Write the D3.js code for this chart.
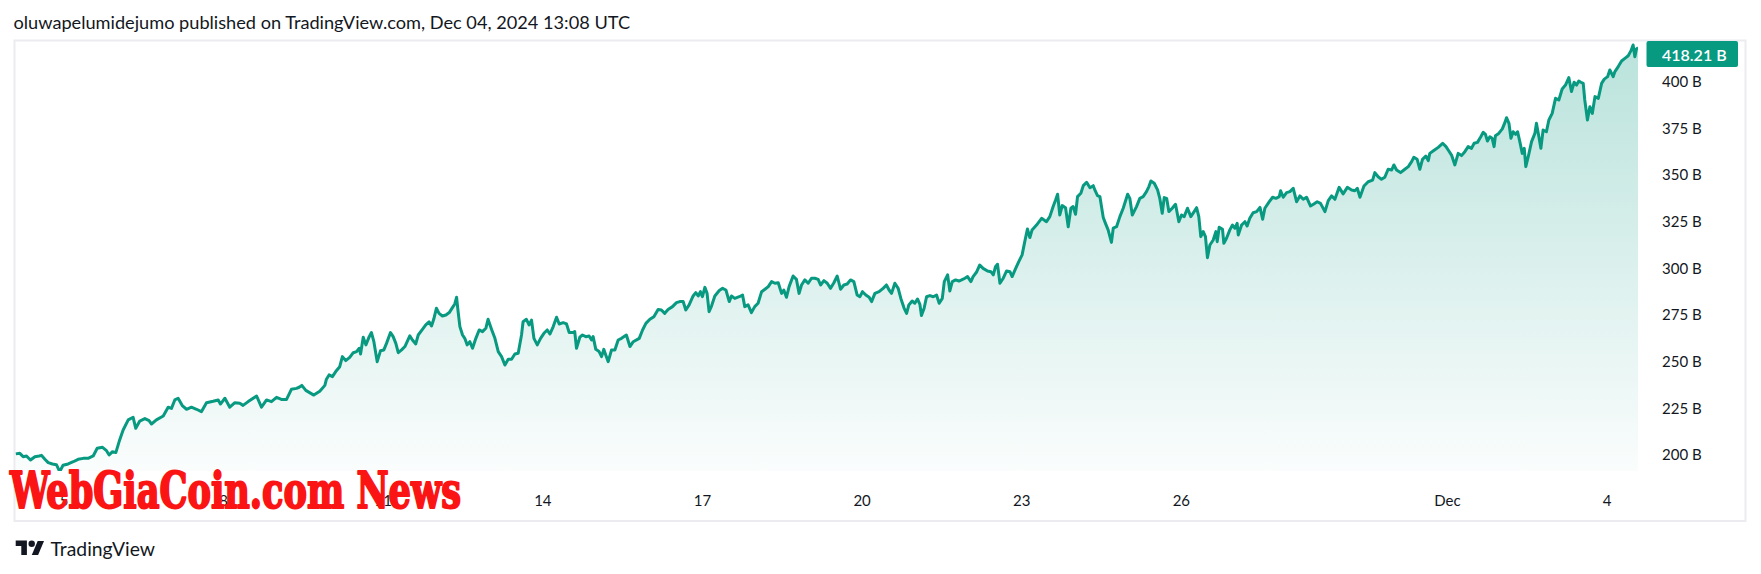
<!DOCTYPE html>
<html><head><meta charset="utf-8">
<script src="https://cdn.jsdelivr.net/npm/d3@7"></script>
<style>html,body{margin:0;padding:0;background:#fff;}svg{display:block;}</style>
</head><body>
<svg id="c" width="1761" height="574"></svg>
<script>
const titleText = "oluwapelumidejumo published on TradingView.com, Dec 04, 2024 13:08 UTC";
const startTime = "2024-11-04T00:00:00Z";
// hours since start (UTC)
const hours = [
2.5,4.3,5.8,7.3,9.1,11.1,13.0,14.1,15.6,17.1,
19.0,20.8,22.3,23.8,26.1,28.4,30.6,32.9,35.1,37.4,
39.2,41.6,43.4,44.6,46.1,47.6,49.1,50.9,53.2,55.4,
56.6,58.4,60.7,62.6,63.7,65.9,69.0,71.2,72.7,74.2,
75.7,77.7,79.5,81.7,84.0,86.2,88.5,91.5,93.8,94.8,
96.8,99.0,101.3,103.5,105.0,107.3,111.1,113.3,115.6,117.8,
120.1,122.3,124.6,126.8,129.1,130.3,
131.5,133.3,136.9,139.6,141.9,
142.6,143.8,145.3,146.8,148.6,149.8,151.3,153.1,154.7,156.2,
157.4,158.0,159.2,160.4,161.9,162.9,164.0,165.5,167.0,168.5,
169.7,171.5,172.7,173.9,175.0,176.5,178.0,180.2,181.4,182.9,
184.0,185.9,187.4,188.9,190.0,191.0,192.2,193.4,194.9,196.5,
198.0,199.5,200.5,201.3,202.0,202.8,204.0,205.0,206.1,207.3,
208.5,210.0,211.5,213.0,214.5,215.5,217.1,218.6,220.1,221.6,
223.1,224.6,226.1,227.6,229.1,230.6,231.3,232.8,234.0,235.1,
236.2,237.7,239.2,240.7,242.2,243.4,244.9,246.4,247.6,249.4,
250.9,252.1,253.9,254.6,255.4,
256.9,258.1,259.6,261.1,262.2,262.9,264.1,265.6,266.7,267.7,
268.6,269.7,271.2,272.7,274.2,275.7,277.9,279.5,281.0,283.7,
285.2,286.7,288.5,290.3,292.2,293.7,295.2,296.7,298.7,300.5,
302.0,303.5,304.7,306.2,308.0,309.2,310.3,311.3,312.2,313.3,
314.3,315.2,316.3,317.8,319.8,321.3,322.8,324.3,325.3,326.8,
328.8,330.3,331.3,332.8,334.3,335.8,337.3,338.9,340.4,341.9,
343.4,344.9,346.4,347.9,348.9,350.1,351.3,353.1,354.6,355.8,
356.9,358.4,359.9,361.4,362.9,364.4,365.5,367.0,368.5,370.0,
371.5,373.0,374.5,376.0,377.5,379.0,380.5,382.0,383.2,384.4,
385.9,387.4,388.5,390.0,391.9,393.7,395.2,396.4,397.5,
399.0,400.5,401.7,403.2,404.3,405.3,406.8,408.0,409.2,410.3,
411.0,412.2,413.3,414.8,416.3,417.8,419.0,420.4,421.3,422.8,
423.8,424.9,426.4,427.9,429.1,430.6,431.8,433.3,434.3,435.8,
437.3,438.8,440.8,442.3,443.4,444.4,445.3,446.4,447.9,449.4,
450.9,451.9,453.4,454.9,456.4,457.6,458.8,459.9,460.9,462.9,
465.2,467.4,468.9,470.4,471.5,472.4,473.4,474.5,476.0,477.2,
478.4,479.4,480.5,481.4,482.9,484.0,485.5,487.0,488.5,489.2,
490.4,491.5,493.0,494.0,495.2,496.7,497.5,499.0,500.5,502.0,
504.0,505.0,506.1,508.0,509.5,511.0,512.5,513.6,514.5,516.0,
517.5,518.5,519.6,520.5,521.6,522.6,524.1,525.6,527.1,528.3,
529.5,531.0,532.5,534.0,535.1,536.1,537.0,538.1,539.1,540.0,
541.1,542.6,543.8,544.4,545.3,546.8,547.4,548.6,550.1,551.3,
552.4,553.4,553.9,555.4,556.9,557.9,559.1,560.6,562.2,563.7,
564.9,565.9,567.9,569.4,570.9,572.4,573.0,574.2,575.7,577.2,
578.7,580.2,581.7,583.2,584.7,586.5,588.0,589.5,591.0,593.0,
594.5,596.0,597.5,599.4,601.2,603.1,605.0,606.5,607.6,608.8,
610.6,612.5,614.5,615.5,617.0,618.5,620.0,621.5,623.1,624.1,
625.3,627.1,628.6,630.6,632.1,633.1,634.6,635.8,637.0,638.5,
639.6,640.3,642.1,644.1,646.1,647.6,648.6,650.1,
651.6,653.1,654.6,656.1,657.6,659.1,660.3,661.8,663.3,664.4,
665.4,666.3,667.4,668.4,669.3,669.9,671.4,673.0,674.2,674.9,
676.0,676.9,677.9,679.0,679.9,680.9,682.0,682.9,683.6,684.7,
686.2,687.7,688.4,689.5,690.4,691.4,692.9,694.0,695.5,697.0,
698.5,700.0,701.5,703.0,704.2,705.4,706.5,707.5,708.4,709.5,
710.2,711.4,712.5,713.6,714.8,716.3,717.8,719.0,720.5,721.5,
723.0,723.8,725.3,726.8,728.3,729.8,731.0,732.0,732.8,733.5,
734.3
];
// market cap in billions
const values = [
200.6,200.9,199.1,199.5,197.3,199.1,199.5,199.8,197.7,195.9,
195.2,194.8,191.1,194.5,195.2,196.4,197.7,198.2,198.2,199.5,
203.6,204.1,202.3,200.0,201.8,201.3,207.2,213.4,218.8,220.2,
214.3,218.2,219.5,218.4,216.6,218.8,220.9,225.6,225.0,229.5,
230.4,226.3,224.5,225.6,224.5,223.2,228.0,228.8,229.5,227.3,
230.4,225.6,228.0,227.7,226.6,228.6,231.6,225.6,229.5,228.6,
230.9,229.8,229.8,235.2,235.7,236.3,
237.3,234.6,232.1,234.2,237.3,
240.6,242.9,242.0,244.7,247.3,252.7,250.6,252.3,254.8,255.4,
257.2,254.1,263.1,259.0,263.4,265.6,260.7,250.0,255.9,256.3,
259.8,265.6,263.4,259.8,254.8,256.3,258.1,263.8,261.6,259.5,
264.3,267.3,269.7,271.4,269.1,272.7,278.6,275.9,274.5,275.0,
276.3,279.1,280.9,284.5,276.8,268.8,264.3,262.5,259.0,260.7,
257.2,262.5,267.0,266.1,267.9,272.7,267.3,262.5,255.4,252.7,
248.2,251.3,251.3,254.1,254.5,264.3,271.4,272.7,269.7,272.3,
262.5,259.0,262.5,265.2,267.0,264.8,268.8,273.8,270.2,270.9,
270.2,265.6,265.6,266.1,257.2,
263.1,264.3,263.4,263.8,261.6,263.4,256.6,255.4,252.7,256.6,
253.6,250.0,256.3,256.3,261.6,262.5,264.3,258.1,260.7,262.5,
267.0,270.5,272.7,274.1,278.0,277.7,275.9,278.0,279.5,281.6,
282.2,282.2,277.7,280.4,285.2,287.0,285.2,287.5,284.8,289.8,
286.6,276.8,279.8,285.2,288.1,289.3,288.4,282.2,285.2,283.9,
284.8,285.7,279.5,280.4,276.3,279.5,281.3,287.5,288.8,290.2,
292.9,292.0,292.3,286.6,288.4,284.5,290.2,295.9,294.1,286.6,
291.1,293.8,292.0,294.7,294.7,294.1,291.1,293.4,292.0,289.3,
292.3,295.9,288.8,291.1,291.6,293.8,292.9,285.7,284.8,287.5,
285.7,284.5,282.2,286.6,287.5,289.3,291.1,288.4,286.6,
292.0,289.3,283.9,278.6,275.9,280.4,282.5,281.3,283.6,280.7,
274.7,278.6,284.8,285.4,284.8,285.7,281.3,283.9,292.9,296.5,
287.9,292.9,293.8,293.2,293.8,294.7,295.6,292.9,295.6,297.9,
301.8,300.0,298.6,298.2,296.5,300.9,302.2,292.0,294.7,298.6,
298.2,295.6,299.7,303.6,307.2,314.3,321.1,316.5,320.6,323.2,
326.8,325.0,327.7,333.1,336.6,339.7,328.6,333.6,332.5,322.3,
332.2,333.1,329.0,338.4,340.2,344.3,346.1,343.2,344.3,342.0,
339.0,338.4,327.2,324.1,320.6,313.9,321.5,322.3,327.7,332.2,
339.7,337.5,328.6,333.1,337.5,338.4,341.1,343.8,346.8,345.6,
342.0,337.5,329.5,337.9,337.5,330.4,332.2,334.3,325.0,328.6,
327.7,332.2,327.7,330.4,332.5,327.7,317.0,319.7,317.0,305.7,
312.5,315.2,319.7,314.3,322.0,320.9,313.4,316.1,320.6,323.2,
321.5,324.1,317.9,323.2,325.0,322.7,326.8,329.8,330.4,332.7,
326.3,332.2,335.7,338.1,337.5,338.4,341.6,338.1,340.6,341.1,
342.9,335.7,338.8,337.0,338.1,333.4,334.5,335.7,334.8,330.4,
336.3,338.8,337.0,343.4,339.9,343.4,342.0,341.6,342.9,338.1,
344.1,346.4,347.3,351.3,349.1,347.7,348.8,353.1,352.7,355.4,
352.7,351.3,352.7,354.5,357.2,359.5,358.4,353.1,358.4,360.2,
357.7,361.6,363.1,364.8,367.0,365.2,363.4,360.7,
355.4,361.6,360.4,362.5,365.2,364.3,367.0,367.5,370.5,372.9,
371.8,368.2,370.5,369.7,365.2,371.1,372.3,374.7,378.2,380.7,
377.7,369.7,373.2,371.8,373.2,367.9,361.6,364.3,354.5,359.8,
367.9,372.3,377.7,370.5,364.3,374.1,373.2,379.5,383.0,391.1,
390.2,396.1,398.2,402.2,394.7,399.7,398.2,400.4,399.7,399.1,
390.2,379.5,386.6,383.0,392.0,391.1,399.1,401.4,402.7,406.3,
402.7,405.4,408.1,411.1,412.5,413.9,416.5,419.7,413.4,417.5,
418.21
];
const yTicks = [200, 225, 250, 275, 300, 325, 350, 375, 400];
const yTickLabels = ["200 B","225 B","250 B","275 B","300 B","325 B","350 B","375 B","400 B"];
const xTickDates = ["2024-11-05","2024-11-08","2024-11-11","2024-11-14","2024-11-17","2024-11-20","2024-11-23","2024-11-26","2024-12-01","2024-12-04"];
const xTickLabels = ["5","8","11","14","17","20","23","26","Dec","4"];
const lastLabel = "418.21 B";
const watermarkText = "WebGiaCoin.com News";
const brandText = "TradingView";

const svg = d3.select("#c");
const GREEN = "#089981", INK = "#131722";
const t0 = new Date(startTime).getTime();
const data = hours.map((h, i) => ({ t: new Date(t0 + h * 3600e3), v: values[i] }));

const plot = { left: 15, right: 1638, top: 41, bottom: 471 };
const x = d3.scaleUtc().domain([new Date("2024-11-05T00:00:00Z"), new Date("2024-12-04T00:00:00Z")]).range([63.5, 1606.5]);
const y = d3.scaleLinear().domain([200, 400]).range([455, 81.7]);

// frame
svg.append("rect").attr("x", 14.5).attr("y", 40.5).attr("width", 1731).attr("height", 480.5)
  .attr("fill", "#fff").attr("stroke", "#ebebf0").attr("stroke-width", 2);

// title
const title = svg.append("text").attr("x", 13.5).attr("y", 22).attr("dominant-baseline", "central")
  .attr("font-family", "Lato, 'Open Sans', sans-serif").attr("font-size", 17).attr("fill", INK).text(titleText);
function fit(sel, target) {
  const w = sel.node().getComputedTextLength();
  const fs = +sel.attr("font-size");
  if (w > 0) sel.attr("font-size", (fs * target / w).toFixed(2));
}
fit(title, 617);

const defs = svg.append("defs");
defs.append("clipPath").attr("id", "clip").append("rect")
  .attr("x", plot.left).attr("y", plot.top).attr("width", plot.right - plot.left).attr("height", plot.bottom - plot.top);
const grad = defs.append("linearGradient").attr("id", "g").attr("gradientUnits", "userSpaceOnUse")
  .attr("x1", 0).attr("x2", 0).attr("y1", 45).attr("y2", plot.bottom);
grad.append("stop").attr("offset", 0).attr("stop-color", GREEN).attr("stop-opacity", 0.28);
grad.append("stop").attr("offset", 1).attr("stop-color", GREEN).attr("stop-opacity", 0.02);

const g = svg.append("g").attr("clip-path", "url(#clip)");
g.append("path").datum(data)
  .attr("d", d3.area().x(d => x(d.t)).y0(plot.bottom).y1(d => y(d.v)))
  .attr("fill", "url(#g)");
g.append("path").datum(data)
  .attr("d", d3.line().x(d => x(d.t)).y(d => y(d.v)))
  .attr("fill", "none").attr("stroke", GREEN).attr("stroke-width", 3).attr("stroke-linejoin", "round");

// y axis (right)
const yAxis = d3.axisRight(y).tickValues(yTicks).tickSize(0).tickPadding(0)
  .tickFormat((d, i) => yTickLabels[i]);
const ya = svg.append("g").attr("transform", "translate(1662,0)").call(yAxis);
ya.select(".domain").remove();
ya.selectAll("text").attr("font-family", "Lato, 'Open Sans', sans-serif").attr("font-size", 15).attr("fill", INK).attr("x", 0);

// x axis
const xAxis = d3.axisBottom(x).tickValues(xTickDates.map(s => new Date(s + "T00:00:00Z"))).tickSize(0).tickPadding(0)
  .tickFormat((d, i) => xTickLabels[i]);
const xa = svg.append("g").attr("transform", "translate(0,495)").call(xAxis);
xa.select(".domain").remove();
xa.selectAll("text").attr("font-family", "Lato, 'Open Sans', sans-serif").attr("font-size", 15).attr("fill", INK);

// last price label
const last = data[data.length - 1];
const ly = Math.max(y(last.v), 54);
svg.append("rect").attr("x", 1646.5).attr("y", ly - 13).attr("width", 91.5).attr("height", 26).attr("rx", 2)
  .attr("fill", GREEN);
svg.append("text").attr("x", 1662).attr("y", ly).attr("dominant-baseline", "central")
  .attr("font-family", "Lato, 'Open Sans', sans-serif").attr("font-size", 16).attr("font-weight", 600)
  .attr("fill", "#fff").text(lastLabel);

// watermark
svg.append("text").attr("x", 10).attr("y", 508)
  .attr("font-family", "'DejaVu Serif Condensed', 'DejaVu Serif', serif").attr("font-weight", "bold")
  .attr("font-size", 50).attr("fill", "#fb1414").attr("stroke", "#fb1414").attr("stroke-width", 2)
  .attr("stroke-linejoin", "round")
  .attr("textLength", 451).attr("lengthAdjust", "spacingAndGlyphs").text(watermarkText);

// brand logo
const logo = svg.append("g").attr("transform", "translate(15.7,537.3) scale(0.8)").attr("fill", INK);
logo.append("path").attr("d", "M14 22H7V11H0V4h14v18z");
logo.append("circle").attr("cx", 20).attr("cy", 8).attr("r", 4);
logo.append("path").attr("d", "M28 22h-7.9l7.4-17.5h7.9L28 22z");
const brand = svg.append("text").attr("x", 50.5).attr("y", 548).attr("dominant-baseline", "central")
  .attr("font-family", "Lato, 'Open Sans', sans-serif").attr("font-size", 17).attr("fill", INK).text(brandText);
fit(brand, 104.5);
</script>
</body></html>
